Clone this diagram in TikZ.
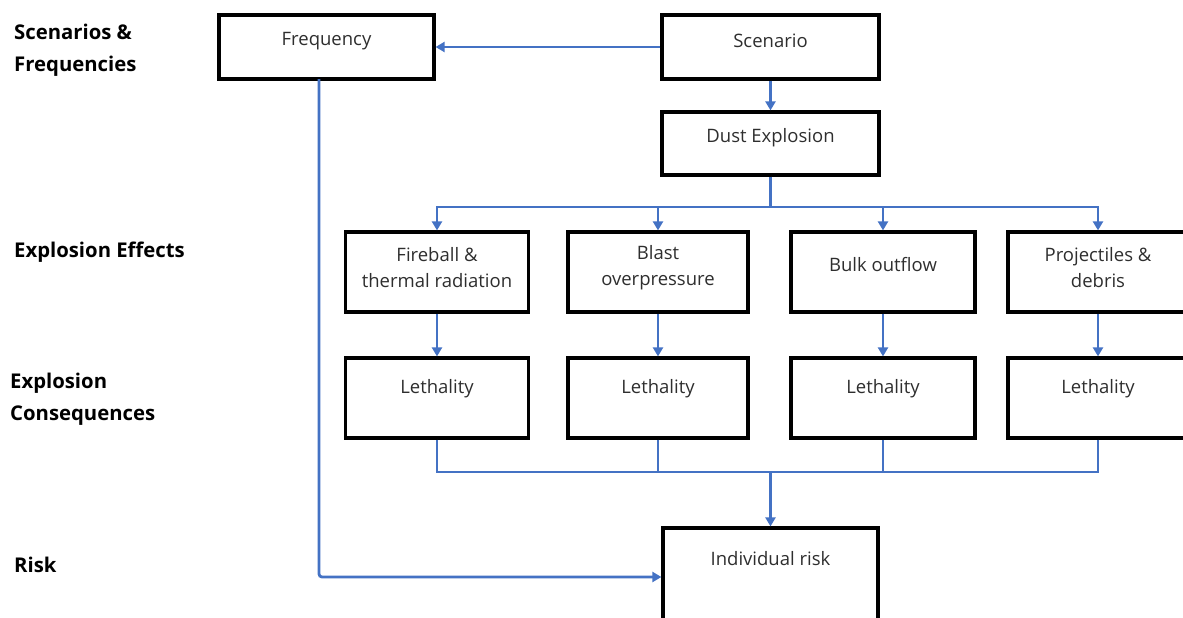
\documentclass[tikz,border=0pt]{standalone}
\usepackage{fontspec}
\setmainfont{Open Sans}
\usetikzlibrary{arrows.meta}
\definecolor{connblue}{HTML}{4472C4}
\definecolor{txtgray}{HTML}{2E2E2E}
\begin{document}
\begin{tikzpicture}[x=1pt,y=-1pt,
  box/.style 2 args={draw=black, line width=3.2pt, minimum width=#1, minimum height=#2, inner sep=0pt},
  boxtxt/.style={text=txtgray, align=center, font={\fontsize{18.5}{26}\selectfont}, inner sep=0pt},
  lab/.style={anchor=west, align=left, inner sep=0pt, font={\bfseries\fontsize{20.3}{32}\selectfont}},
  conn/.style={draw=connblue, line width=2.8pt},
  arr/.style={conn, -{Triangle[length=9pt,width=10pt]}}
]
\useasboundingbox (0,0) rectangle (1183,618);
\clip (0,0) rectangle (1183,618);

% row labels
\node[lab] (l1) at (14,50) {Scenarios \&\\Frequencies};
\node[lab] (l2) at (14,252) {Explosion Effects};
\node[lab] (l3) at (10,399) {Explosion\\Consequences};
\node[lab] (l4) at (14,565) {Risk};

% boxes
\node[box={215pt}{64pt}, label={[boxtxt, yshift=6pt]center:Frequency}] (freq) at (326.5,47) {};
\node[box={217pt}{64pt}, label={[boxtxt, yshift=6pt]center:Scenario}] (scen) at (770.5,47) {};
\node[box={217pt}{63pt}, label={[boxtxt, yshift=6pt]center:Dust Explosion}] (dust) at (770.5,143.5) {};

\node[box={183pt}{80pt}, label={[boxtxt, yshift=4pt]center:Fireball \&\\thermal radiation}] (fire) at (437,272) {};
\node[box={180pt}{80pt}, label={[boxtxt, yshift=4pt]center:Blast\\overpressure}] (blast) at (658,272) {};
\node[box={184pt}{80pt}, label={[boxtxt, yshift=7pt]center:Bulk outflow}] (bulk) at (883,272) {};
\node[box={180pt}{80pt}, label={[boxtxt, yshift=4pt]center:Projectiles \&\\debris}] (proj) at (1098,272) {};

\node[box={183pt}{80pt}, label={[boxtxt, yshift=9pt]center:Lethality}] (leth1) at (437,398) {};
\node[box={180pt}{80pt}, label={[boxtxt, yshift=9pt]center:Lethality}] (leth2) at (658,398) {};
\node[box={184pt}{80pt}, label={[boxtxt, yshift=9pt]center:Lethality}] (leth3) at (883,398) {};
\node[box={180pt}{80pt}, label={[boxtxt, yshift=9pt]center:Lethality}] (leth4) at (1098,398) {};

\node[box={215pt}{98pt}, label={[boxtxt, anchor=center, yshift=-32pt]north:Individual risk}] (risk) at (770.5,577) {};

% connectors
\coordinate (bus1) at (770.5,207);
\coordinate (bus2) at (770.5,472);
\coordinate (fdown) at (319,79);

\draw[arr] (scen.west) -- (freq.east);
\draw[arr] (scen.south) -- (dust.north);
\draw[conn] (dust.south) -- (bus1);
\draw[arr] (bus1) -| (fire.north);
\draw[arr] (bus1) -| (blast.north);
\draw[arr] (bus1) -| (bulk.north);
\draw[arr] (bus1) -| (proj.north);

\draw[arr] (fire.south) -- (leth1.north);
\draw[arr] (blast.south) -- (leth2.north);
\draw[arr] (bulk.south) -- (leth3.north);
\draw[arr] (proj.south) -- (leth4.north);

\draw[conn] (leth1.south) |- (bus2);
\draw[conn] (leth2.south) |- (bus2);
\draw[conn] (leth3.south) |- (bus2);
\draw[conn] (leth4.south) |- (bus2);
\draw[arr] (bus2) -- (risk.north);

\draw[arr, rounded corners=3pt] (fdown) |- (risk.west);
\end{tikzpicture}
\end{document}
